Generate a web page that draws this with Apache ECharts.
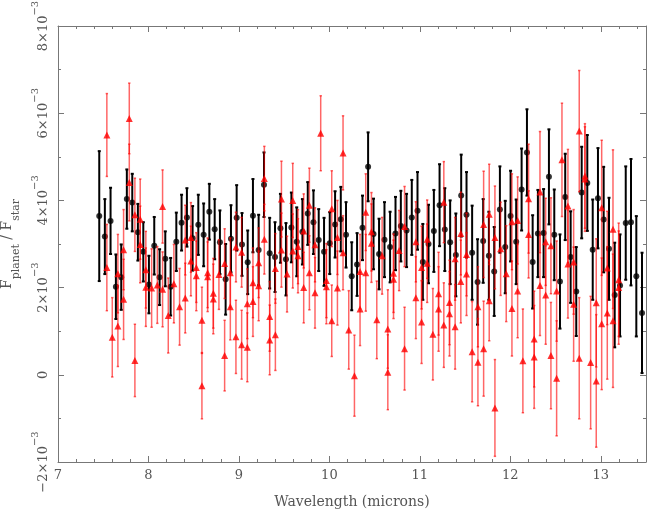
<!DOCTYPE html>
<html>
<head>
<meta charset="utf-8">
<script src="https://cdn.jsdelivr.net/npm/echarts@6/dist/echarts.min.js"></script>
<style>
  html, body { margin: 0; padding: 0; background: #fff; }
  #main { width: 649px; height: 510px; }
</style>
</head>
<body>
<div id="main"></div>
<script>
// flux values are in units of 1e-3
var blackWave = [7.456, 7.518, 7.581, 7.640, 7.699, 7.761, 7.821, 7.883, 7.943, 8.005,
  8.064, 8.123, 8.186, 8.245, 8.308, 8.366, 8.425, 8.488, 8.551, 8.610,
  8.673, 8.732, 8.790, 8.853, 8.912, 8.975, 9.034, 9.097, 9.155, 9.218,
  9.277, 9.340, 9.399, 9.459, 9.520, 9.580, 9.639, 9.702, 9.761, 9.824,
  9.882, 9.941, 10.004, 10.063, 10.126, 10.184, 10.247, 10.306, 10.366, 10.428,
  10.488, 10.549, 10.609, 10.671, 10.731, 10.790, 10.853, 10.911, 10.974, 11.033,
  11.096, 11.155, 11.218, 11.276, 11.335, 11.398, 11.457, 11.516, 11.578, 11.638,
  11.700, 11.763, 11.822, 11.885, 11.944, 12.003, 12.065, 12.125, 12.184, 12.247,
  12.305, 12.368, 12.427, 12.486, 12.549, 12.607, 12.667, 12.729, 12.789, 12.851,
  12.911, 12.969, 13.032, 13.091, 13.154, 13.213, 13.276, 13.334, 13.393, 13.456];
var blackFlux = [3.64, 3.17, 3.53, 2.02, 2.24, 4.03, 3.95, 3.27, 2.82, 2.07,
  2.96, 2.24, 2.66, 2.02, 3.05, 3.49, 3.61, 3.13, 3.44, 3.21,
  3.74, 3.34, 3.04, 2.19, 3.12, 3.60, 2.99, 2.58, 3.65, 2.86,
  4.36, 2.79, 2.70, 3.36, 2.65, 3.38, 3.05, 3.28, 3.70, 3.50,
  3.09, 2.82, 3.02, 3.45, 3.57, 3.21, 2.26, 2.53, 3.37, 4.77,
  3.23, 2.77, 3.10, 2.93, 3.24, 3.41, 3.31, 3.61, 3.76, 2.59,
  3.00, 3.30, 3.89, 3.33, 3.04, 2.75, 4.11, 3.67, 2.80, 2.13,
  3.07, 2.73, 2.37, 3.79, 2.93, 3.64, 3.05, 4.25, 5.10, 2.59,
  3.24, 3.25, 4.54, 3.21, 2.14, 4.08, 2.70, 1.91, 4.18, 4.40,
  2.87, 4.05, 3.56, 2.89, 1.83, 2.05, 3.48, 3.50, 2.26, 1.42];
var blackErr = [1.49, 0.86, 0.76, 0.74, 0.75, 0.68, 0.66, 0.65, 0.68, 0.66,
  0.66, 0.64, 0.63, 0.66, 0.67, 0.64, 0.67, 0.74, 0.69, 0.72,
  0.64, 0.69, 0.73, 0.81, 0.77, 0.75, 0.72, 0.73, 0.84, 0.81,
  0.74, 0.81, 0.80, 0.79, 0.83, 0.80, 0.79, 0.75, 0.72, 0.73,
  0.71, 0.78, 0.71, 0.76, 0.74, 0.75, 0.78, 0.72, 0.74, 0.79,
  0.81, 0.81, 0.86, 0.81, 0.84, 0.81, 0.84, 0.86, 0.89, 0.87,
  0.90, 0.94, 0.94, 0.95, 0.96, 0.95, 0.94, 0.98, 1.08, 0.98,
  0.96, 1.01, 1.02, 0.99, 1.06, 1.04, 0.97, 0.94, 0.99, 1.07,
  1.00, 1.01, 1.09, 1.04, 1.08, 0.99, 1.05, 1.02, 1.05, 1.10,
  1.15, 1.15, 1.21, 1.17, 1.20, 1.17, 1.30, 1.45, 1.38, 1.38];

var redWave = [7.540, 7.540, 7.600, 7.662, 7.662, 7.725, 7.725, 7.788, 7.788, 7.850,
  7.850, 7.909, 7.909, 7.971, 7.971, 8.035, 8.098, 8.156, 8.156, 8.219,
  8.281, 8.344, 8.407, 8.407, 8.469, 8.469, 8.529, 8.529, 8.591, 8.591,
  8.654, 8.654, 8.717, 8.717, 8.779, 8.842, 8.842, 8.905, 8.905, 8.967,
  8.967, 9.030, 9.030, 9.093, 9.093, 9.155, 9.155, 9.218, 9.218, 9.281,
  9.281, 9.340, 9.340, 9.403, 9.403, 9.470, 9.470, 9.532, 9.595, 9.595,
  9.653, 9.653, 9.716, 9.716, 9.779, 9.779, 9.841, 9.841, 9.904, 9.967,
  9.967, 10.026, 10.026, 10.089, 10.089, 10.151, 10.151, 10.214, 10.277, 10.339,
  10.339, 10.402, 10.402, 10.465, 10.465, 10.524, 10.583, 10.646, 10.646, 10.709,
  10.709, 10.771, 10.831, 10.831, 10.956, 10.956, 11.019, 11.019, 11.081, 11.081,
  11.144, 11.207, 11.207, 11.265, 11.265, 11.328, 11.328, 11.390, 11.390, 11.453,
  11.453, 11.516, 11.516, 11.578, 11.642, 11.642, 11.705, 11.705, 11.767, 11.767,
  11.830, 11.830, 11.893, 11.955, 12.018, 12.018, 12.081, 12.081, 12.139, 12.202,
  12.202, 12.264, 12.264, 12.328, 12.328, 12.391, 12.391, 12.449, 12.449, 12.512,
  12.512, 12.571, 12.637, 12.637, 12.700, 12.700, 12.762, 12.762, 12.825, 12.825,
  12.888, 12.950, 12.950, 13.010, 13.010, 13.072, 13.072, 13.135, 13.135, 13.198,
  13.198];
var redFlux = [5.50, 2.46, 0.86, 2.32, 1.12, 2.87, 1.73, 5.88, 4.41, 3.67,
  0.33, 3.57, 2.99, 2.41, 2.01, 1.99, 2.06, 3.86, 1.96, 1.36,
  2.09, 1.56, 3.09, 1.76, 3.15, 2.61, 2.46, 2.27, 1.25, -0.25,
  2.34, 2.25, 1.87, 1.74, 2.30, 2.55, 0.44, 2.34, 1.56, 2.93,
  0.87, 2.81, 0.69, 1.63, 0.63, 2.11, 1.68, 2.57, 2.04, 4.50,
  3.11, 1.34, 0.80, 2.44, 0.92, 4.03, 2.86, 2.31, 4.00, 2.84,
  2.94, 2.73, 3.30, 2.00, 3.89, 2.34, 2.98, 1.88, 5.54, 2.16,
  2.02, 3.81, 1.24, 3.15, 1.99, 5.09, 2.80, 1.03, -0.02, 2.37,
  1.51, 3.73, 2.34, 3.28, 3.02, 1.26, 2.73, 1.05, 0.06, 2.33,
  2.19, 2.85, 3.40, 0.60, 3.05, 1.77, 2.46, 1.21, 3.11, 2.56,
  0.93, 1.86, 1.51, 3.96, 1.14, 1.66, 1.40, 2.66, 1.10, 3.24,
  2.14, 2.76, 2.31, 0.53, 0.29, 1.56, 3.45, 0.60, 3.68, 1.70,
  3.15, -0.76, 2.89, 2.32, 3.51, 1.52, 3.54, 1.92, 0.32, 4.04,
  3.22, 0.82, 0.41, 4.19, 2.05, 3.05, 1.83, 2.96, 0.44, 1.92,
  -0.08, 4.93, 3.87, 2.54, 2.59, 1.62, 5.59, 0.38, 4.56, 4.49,
  0.28, 1.65, -0.14, 3.83, 1.17, 2.45, 1.42, 3.34, 1.24, 2.18,
  2.00];
var redErr = [0.95, 0.99, 0.91, 0.90, 0.93, 0.92, 0.92, 0.81, 0.88, 0.84,
  0.83, 0.92, 0.88, 0.88, 0.90, 0.90, 0.88, 0.84, 0.86, 0.86,
  0.90, 0.88, 0.80, 0.80, 0.80, 0.80, 0.80, 0.80, 0.76, 0.76,
  0.80, 0.80, 0.80, 0.80, 0.80, 0.80, 0.81, 0.80, 0.76, 0.80,
  0.84, 0.80, 0.79, 0.80, 0.79, 0.80, 0.80, 0.80, 0.80, 0.74,
  0.80, 0.80, 0.80, 0.80, 0.82, 0.87, 0.85, 0.87, 0.85, 0.85,
  0.85, 0.85, 0.85, 0.81, 0.85, 0.85, 0.85, 0.81, 0.86, 0.85,
  0.85, 0.87, 0.82, 0.85, 0.85, 0.85, 0.85, 0.90, 0.93, 0.85,
  0.84, 0.88, 0.88, 0.90, 0.90, 0.89, 0.88, 0.90, 0.86, 0.90,
  0.90, 0.92, 0.92, 0.95, 0.92, 0.94, 0.95, 0.95, 0.90, 0.90,
  1.05, 0.95, 0.97, 0.93, 0.97, 0.97, 0.97, 0.95, 0.97, 0.95,
  0.95, 0.95, 0.95, 1.15, 1.00, 0.92, 1.22, 1.09, 1.15, 0.92,
  1.18, 1.11, 1.07, 1.10, 1.10, 1.09, 1.00, 1.07, 1.19, 1.25,
  1.00, 1.10, 1.18, 1.39, 1.15, 1.00, 1.13, 1.10, 1.22, 1.15,
  1.32, 1.30, 1.30, 1.24, 1.20, 1.31, 1.39, 1.39, 1.20, 1.20,
  1.52, 1.47, 1.52, 1.55, 1.51, 1.30, 1.52, 1.82, 1.53, 1.30,
  1.30];

var xTicks = [7, 8, 9, 10, 11, 12, 13];
var yTickExp = [-2, 0, 2, 4, 6, 8];

function pts(w, f) {
  var out = [];
  for (var i = 0; i < w.length; i++) out.push([w[i], f[i]]);
  return out;
}
function bars(w, f, e) {
  var out = [];
  for (var i = 0; i < w.length; i++) out.push([w[i], f[i] - e[i], f[i] + e[i]]);
  return out;
}

function errorBar(color, width, cap) {
  return function (params, api) {
    var x = api.value(0);
    var lo = api.coord([x, api.value(1)]);
    var hi = api.coord([x, api.value(2)]);
    var st = { stroke: color, lineWidth: width };
    return {
      type: 'group',
      children: [
        { type: 'line', shape: { x1: hi[0], y1: hi[1], x2: lo[0], y2: lo[1] }, style: st },
        { type: 'line', shape: { x1: hi[0] - cap, y1: hi[1], x2: hi[0] + cap, y2: hi[1] }, style: st },
        { type: 'line', shape: { x1: lo[0] - cap, y1: lo[1], x2: lo[0] + cap, y2: lo[1] }, style: st }
      ]
    };
  };
}

var font = 'DejaVu Serif';
var grey = '#555';
var axisCol = '#777';

function xAxisCfg(pos, labels) {
  return {
    type: 'value', position: pos, min: 7, max: 13.5, interval: 1,
    axisLine: { show: true, onZero: false, lineStyle: { color: axisCol, width: 1 } },
    axisTick: { show: true, inside: true, length: 6, lineStyle: { color: axisCol } },
    minorTick: { show: true, splitNumber: 5, length: 3, lineStyle: { color: axisCol } },
    splitLine: { show: false },
    axisLabel: {
      show: labels, color: grey, fontFamily: font, fontSize: 13, margin: 7,
      formatter: function (v) { return xTicks.indexOf(v) >= 0 ? String(v) : ''; }
    }
  };
}
function yAxisCfg(pos, labels) {
  return {
    type: 'value', position: pos, min: -2, max: 8, interval: 2,
    axisLine: { show: true, onZero: false, lineStyle: { color: axisCol, width: 1 } },
    axisTick: { show: true, inside: true, length: 6, lineStyle: { color: axisCol } },
    minorTick: { show: true, splitNumber: 2, length: 3, lineStyle: { color: axisCol } },
    splitLine: { show: false },
    axisLabel: {
      show: labels, color: grey, fontFamily: font, fontSize: 13, margin: 8, rotate: 90,
      formatter: function (v) {
        if (yTickExp.indexOf(v) < 0) return '';
        if (v === 0) return '{b|0}';
        return '{b|' + (v < 0 ? '\u2212' + (-v) : v) + '\u00d710}{s|\u22123}';
      },
      rich: {
        b: { fontFamily: font, fontSize: 13, color: grey, lineHeight: 20, verticalAlign: 'bottom' },
        s: { fontFamily: font, fontSize: 10, color: grey, lineHeight: 20, verticalAlign: 'top' }
      }
    }
  };
}

var chart = echarts.init(document.getElementById('main'), null, { renderer: 'canvas' });

var xBottom = xAxisCfg('bottom', true);
xBottom.name = 'Wavelength (microns)';
xBottom.nameLocation = 'middle';
xBottom.nameGap = 33;
xBottom.nameTextStyle = { color: grey, fontFamily: font, fontSize: 14 };

var yLeft = yAxisCfg('left', true);
yLeft.name = '{F|F}{s|planet}{F| / F}{s|star}';
yLeft.nameLocation = 'middle';
yLeft.nameGap = 31;
yLeft.nameTextStyle = {
  rich: {
    F: { fontFamily: font, fontSize: 14, color: grey, lineHeight: 22, verticalAlign: 'top' },
    s: { fontFamily: font, fontSize: 11, color: grey, lineHeight: 22, verticalAlign: 'bottom' }
  }
};

var option = {
  animation: false,
  backgroundColor: '#fff',
  grid: { left: 58, top: 26, width: 588, height: 436, containLabel: false, outerBoundsMode: 'none' },
  xAxis: [xBottom, xAxisCfg('top', false)],
  yAxis: [yLeft, yAxisCfg('right', false)],
  series: [
    {
      type: 'custom', renderItem: errorBar('#000', 2, 1.5), clip: true,
      encode: { x: 0, y: [1, 2] }, data: bars(blackWave, blackFlux, blackErr), z: 2
    },
    {
      type: 'scatter', symbol: 'circle', symbolSize: 6,
      itemStyle: { color: '#000' }, data: pts(blackWave, blackFlux), z: 3
    },
    {
      type: 'custom', renderItem: errorBar('rgba(255,0,0,0.6)', 1.5, 1.2), clip: true,
      encode: { x: 0, y: [1, 2] }, data: bars(redWave, redFlux, redErr), z: 4
    },
    {
      type: 'scatter', symbol: 'triangle', symbolSize: 7,
      itemStyle: { color: '#ff0000' }, data: pts(redWave, redFlux), z: 5
    }
  ]
};

chart.setOption(option);
</script>
</body>
</html>
